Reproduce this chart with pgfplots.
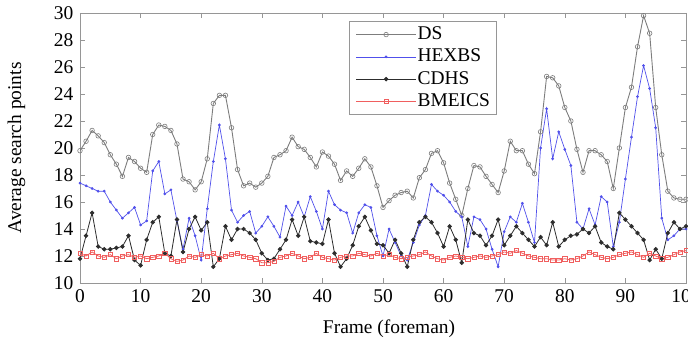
\documentclass[border=0pt]{standalone}
\usepackage{fontspec}
\setmainfont{Liberation Serif}[Ligatures=TeX]
\newfontfamily\tnr{Liberation Serif}
\usepackage{pgfplots}
\pgfplotsset{compat=1.18}
\usepackage{pgfplotstable}

\definecolor{dsgray}{RGB}{125,125,125}
\definecolor{hexblue}{RGB}{80,80,235}
\definecolor{cdgray}{RGB}{45,45,45}
\definecolor{bmred}{RGB}{240,95,95}
\definecolor{framegray}{RGB}{150,150,150}

\pgfplotstableread{
x ds hex cd bm
0 19.8 17.4 11.8 12.2
1 20.5 17.2 13.5 12.0
2 21.3 17.0 15.2 12.3
3 20.9 16.8 12.7 12.0
4 20.4 16.8 12.5 11.9
5 19.5 16.0 12.5 12.1
6 18.8 15.4 12.6 11.8
7 17.9 14.8 12.7 12.0
8 19.3 15.2 13.5 12.1
9 19.0 15.6 11.7 11.9
10 18.5 14.3 11.3 12.0
11 18.2 14.6 13.2 11.8
12 21.0 18.3 14.5 11.9
13 21.7 19.0 14.9 12.0
14 21.6 16.6 12.2 12.2
15 21.3 16.9 12.0 11.8
16 20.3 14.6 14.7 11.6
17 17.7 12.5 12.3 11.7
18 17.5 14.8 14.0 12.0
19 16.9 13.5 14.9 11.9
20 17.5 11.7 13.9 12.1
21 19.2 15.5 14.5 12.0
22 23.3 19.0 11.2 12.2
23 23.9 21.7 11.8 11.8
24 23.9 19.2 14.2 12.0
25 21.5 15.4 13.2 12.1
26 18.4 14.5 14.0 12.2
27 17.2 15.0 14.0 12.0
28 17.4 15.3 13.7 11.9
29 17.1 13.7 13.2 11.8
30 17.4 14.2 12.2 11.5
31 17.9 14.9 11.7 11.5
32 19.3 14.2 11.8 11.6
33 19.5 13.4 12.5 11.9
34 19.8 15.7 13.2 12.0
35 20.8 15.0 14.7 12.2
36 20.1 16.0 13.5 12.0
37 19.9 14.9 14.9 11.8
38 19.3 16.4 13.1 11.9
39 18.6 15.3 13.0 12.2
40 19.7 14.0 12.9 11.9
41 19.4 16.8 14.7 11.8
42 18.8 15.8 12.2 11.7
43 17.6 15.4 11.2 11.9
44 18.3 15.2 11.8 12.0
45 17.9 13.7 12.8 12.0
46 18.5 15.2 14.2 12.2
47 19.2 15.8 14.9 12.1
48 18.6 15.6 13.9 12.0
49 17.2 13.5 12.9 12.2
50 15.6 12.0 12.8 12.0
51 16.1 14.0 12.2 12.1
52 16.5 13.0 13.2 11.9
53 16.7 12.0 12.2 11.8
54 16.8 11.7 11.2 11.9
55 16.3 13.0 13.2 12.0
56 17.8 14.3 14.5 12.1
57 18.4 15.0 14.9 12.3
58 19.6 17.3 14.5 12.0
59 19.8 16.8 13.7 11.8
60 18.9 16.5 12.7 11.7
61 17.4 16.0 14.2 11.9
62 16.2 15.3 13.2 12.0
63 15.0 14.9 11.5 11.9
64 17.0 12.7 14.7 11.8
65 18.7 14.9 13.7 11.9
66 18.6 14.7 13.5 12.0
67 17.9 14.0 12.8 11.9
68 17.3 12.5 13.5 12.0
69 16.7 11.2 14.7 12.1
70 18.3 13.8 12.8 12.3
71 20.5 14.9 13.5 12.2
72 19.8 14.5 14.2 12.4
73 19.8 15.9 13.7 12.2
74 18.8 14.5 13.2 12.0
75 18.1 13.0 12.7 11.9
76 21.2 20.0 13.4 11.8
77 25.3 22.9 12.8 11.8
78 25.2 19.2 14.5 11.7
79 24.6 21.2 12.7 11.7
80 23.0 19.9 13.2 11.8
81 22.0 18.7 13.5 11.7
82 19.9 14.5 13.6 11.8
83 18.2 14.0 14.0 12.0
84 19.8 15.5 13.7 12.3
85 19.8 14.3 14.2 12.1
86 19.5 16.4 13.0 11.9
87 19.0 16.0 12.7 11.8
88 17.0 12.7 12.5 11.9
89 20.0 14.5 15.2 12.1
90 23.0 17.7 14.7 12.2
91 24.5 20.8 14.2 12.3
92 27.5 23.8 13.7 12.1
93 29.8 26.1 13.2 11.9
94 28.5 24.4 11.7 12.2
95 23.0 21.5 12.5 12.0
96 19.5 14.8 11.8 11.8
97 16.8 13.2 13.7 11.9
98 16.3 13.5 14.5 12.1
99 16.2 14.0 14.0 12.3
100 16.2 14.0 14.2 12.4
}\datatable

\begin{document}
\tnr\fontsize{19.5}{23}\selectfont
\begin{tikzpicture}[font=\tnr\fontsize{19.5}{23}\selectfont]
\begin{axis}[
  scale only axis, width=606bp, height=270bp,
  xmin=0, xmax=100, ymin=10, ymax=30,
  xtick={0,10,...,100}, ytick={10,12,...,30},
  axis line style={framegray, line width=0.9bp},
  tick style={framegray, line width=0.6bp},
  major tick length=5bp,
  ticklabel style={font=\tnr\fontsize{19.5}{23}\selectfont},
  /pgf/number format/assume math mode=true,
  xlabel={Frame (foreman)}, ylabel={Average search points},
  label style={font=\tnr\fontsize{19.5}{23}\selectfont},
  xlabel style={at={(axis description cs:0.51,-0.17)}, anchor=center},
  ylabel style={at={(axis description cs:-0.105,0.5)}, anchor=center},
  legend style={at={(axis description cs:0.444,0.97)}, anchor=north west,
    draw=framegray, line width=1.2bp, inner xsep=6bp, inner ysep=4bp,
    font=\tnr\fontsize{19.5}{23}\selectfont, row sep=4.5bp,
    nodes={inner sep=1bp, anchor=west}},
  legend cell align=left,
  /tikz/every even column/.append style={column sep=0pt},
  legend image code/.code={\draw[mark repeat=2,mark phase=2,#1] plot coordinates {(0bp,0bp) (30bp,0bp) (60bp,0bp)};},
]
\addplot[dsgray, line width=0.9bp, mark=o, mark size=2.3bp, mark options={line width=0.6bp}] table[x=x,y=ds] {\datatable};
\addlegendentry{DS}
\addplot[hexblue, line width=0.7bp, mark=*, mark size=1bp] table[x=x,y=hex] {\datatable};
\addlegendentry{HEXBS}
\addplot[cdgray, line width=0.8bp, mark=*, mark size=1.8bp] table[x=x,y=cd] {\datatable};
\addlegendentry{CDHS}
\addplot[bmred, line width=0.8bp, mark=square, mark size=2.1bp, mark options={line width=0.5bp}] table[x=x,y=bm] {\datatable};
\addlegendentry{BMEICS}
\end{axis}
\pgfresetboundingbox
\useasboundingbox (-80bp,-60bp) rectangle (608bp,283bp);
\end{tikzpicture}
\end{document}
